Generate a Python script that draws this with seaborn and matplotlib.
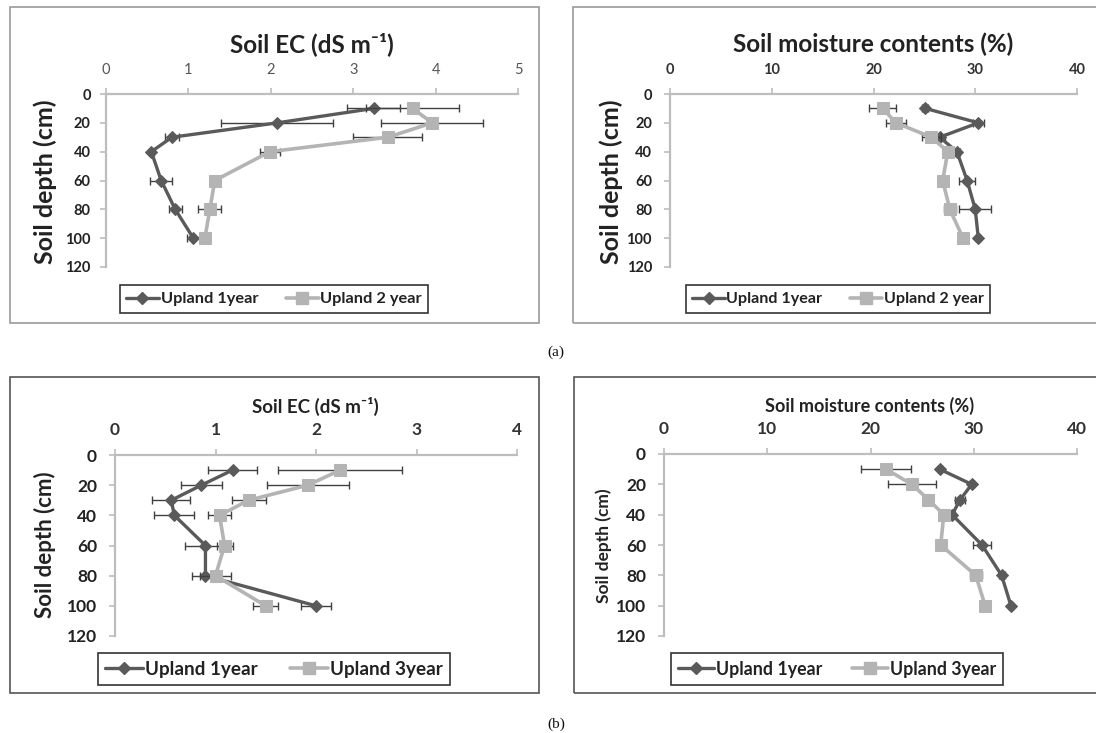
import numpy as np
import matplotlib
matplotlib.use("Agg")
import matplotlib.pyplot as plt
import seaborn as sns
from matplotlib.patches import Rectangle
from matplotlib.lines import Line2D

# ---------------- data ----------------
depth = [10, 20, 30, 40, 60, 80, 100]
depth_ticks = [0, 20, 40, 60, 80, 100, 120]

# (a) Soil EC
a_ec_1yr = [3.25, 2.08, 0.80, 0.55, 0.67, 0.84, 1.06]
a_ec_1yr_err = [0.32, 0.68, 0.08, 0.03, 0.13, 0.08, 0.08]
a_ec_2yr = [3.72, 3.96, 3.42, 1.99, 1.32, 1.26, 1.20]
a_ec_2yr_err = [0.57, 0.62, 0.42, 0.12, 0.03, 0.14, 0.06]
# (a) Soil moisture
a_sm_1yr = [25.1, 30.3, 26.5, 28.2, 29.2, 30.0, 30.3]
a_sm_1yr_err = [0.3, 0.55, 0.5, 0.3, 0.75, 1.55, 0.2]
a_sm_2yr = [20.9, 22.2, 25.7, 27.3, 26.8, 27.5, 28.8]
a_sm_2yr_err = [1.3, 1.0, 0.9, 0.3, 0.2, 0.6, 0.2]
# (b) Soil EC
b_ec_1yr = [1.17, 0.86, 0.56, 0.59, 0.90, 0.90, 2.00]
b_ec_1yr_err = [0.24, 0.20, 0.19, 0.20, 0.20, 0.13, 0.145]
b_ec_3yr = [2.24, 1.92, 1.33, 1.04, 1.09, 1.00, 1.50]
b_ec_3yr_err = [0.62, 0.41, 0.17, 0.11, 0.08, 0.15, 0.125]
# (b) Soil moisture
b_sm_1yr = [26.7, 29.8, 28.7, 27.9, 30.8, 32.7, 33.6]
b_sm_1yr_err = [0.2, 0.2, 0.5, 0.3, 0.85, 0.3, 0.2]
b_sm_3yr = [21.5, 24.0, 25.6, 27.1, 26.8, 30.2, 31.1]
b_sm_3yr_err = [2.4, 2.3, 0.2, 0.4, 0.2, 0.6, 0.3]

label_1yr = "Upland 1year"
label_2yr = "Upland 2 year"
label_3yr = "Upland 3year"
title_ec = "Soil EC (dS m\u207b\u00b9)"
title_sm = "Soil moisture contents (%)"
ylabel = "Soil depth (cm)"

# ---------------- style ----------------
sns.set_theme(style="white")
plt.rcParams["font.family"] = ["Lato", "DejaVu Sans"]

W, H = 1096, 733
fig = plt.figure(figsize=(W / 100, H / 100), dpi=100)

C1 = "#5a5a5a"
C2 = "#b4b4b4"
CERR = "#404040"
CAX = "#bdbdbd"


def fx(px):
    return px / W


def fy(py):
    return 1 - py / H


def make_axes(x0, x1, y0, y1):
    return fig.add_axes([fx(x0), fy(y1), fx(x1 - x0), (y1 - y0) / H])


def frame(x0, y0, x1, y1, color):
    fig.patches.append(Rectangle((fx(x0), fy(y1)), fx(x1 - x0), (y1 - y0) / H,
                                 transform=fig.transFigure, fill=False,
                                 edgecolor=color, lw=1.2, zorder=0))


def panel(ax, xmax, xticks, s1, e1, s2, e2, lab2, xt_size, xt_weight, xt_color,
          yt_size, title, t_size, t_xy, yl_size, yl_xy, leg_xy, leg_size, xt_pad, yt_pad):
    df_kw = dict(ax=ax, orient="y", sort=False, legend=False)
    ax.errorbar(s1, depth, xerr=e1, fmt="none", ecolor=CERR, elinewidth=1.0,
                capsize=3, capthick=1.0, zorder=3)
    sns.lineplot(x=s1, y=depth, color=C1, lw=2.4, marker="D", markersize=6,
                 markeredgecolor=C1, zorder=4, **df_kw)
    ax.errorbar(s2, depth, xerr=e2, fmt="none", ecolor=CERR, elinewidth=1.0,
                capsize=3, capthick=1.0, zorder=5)
    sns.lineplot(x=s2, y=depth, color=C2, lw=2.6, marker="s", markersize=9,
                 markeredgecolor=C2, zorder=6, **df_kw)
    ax.set_xlim(0, xmax)
    ax.set_ylim(120, 0)
    ax.set_xticks(xticks)
    ax.set_yticks(depth_ticks)
    ax.xaxis.tick_top()
    ax.set_xlabel("")
    ax.set_ylabel("")
    for s in ["right", "bottom"]:
        ax.spines[s].set_visible(False)
    for s in ["top", "left"]:
        ax.spines[s].set_color(CAX)
        ax.spines[s].set_linewidth(1.6)
    ax.set_facecolor("none")
    ax.tick_params(axis="x", which="both", top=True, bottom=False, direction="out",
                   length=4, width=1.2, color=CAX, labelsize=xt_size, pad=xt_pad,
                   labelcolor=xt_color)
    ax.tick_params(axis="y", which="both", left=True, direction="out", length=4,
                   width=1.2, color=CAX, labelsize=yt_size, pad=yt_pad,
                   labelcolor="#222222")
    for t in ax.get_xticklabels():
        t.set_fontweight(xt_weight)
    for t in ax.get_yticklabels():
        t.set_fontweight("bold")
    for art in ax.lines + ax.collections:
        art.set_clip_on(False)
    fig.text(fx(t_xy[0]), fy(t_xy[1]), title, ha="center", va="center",
             fontsize=t_size, fontweight="bold", color="#222222")
    fig.text(fx(yl_xy[0]), fy(yl_xy[1]), ylabel, ha="center", va="center",
             rotation=90, fontsize=yl_size, fontweight="bold", color="#222222")
    handles = [Line2D([], [], color=C1, lw=2.4, marker="D", markersize=6),
               Line2D([], [], color=C2, lw=2.6, marker="s", markersize=9)]
    leg = ax.legend(handles, [label_1yr, lab2], loc="center",
                    bbox_to_anchor=(fx(leg_xy[0]), fy(leg_xy[1])),
                    bbox_transform=fig.transFigure, ncol=2, frameon=True,
                    fancybox=False, edgecolor="#333333", framealpha=1,
                    prop={"weight": "bold", "size": leg_size},
                    handlelength=2.0, handletextpad=0.1, columnspacing=1.7,
                    borderpad=0.4, borderaxespad=0)
    leg.get_frame().set_linewidth(1.2)
    for t in leg.get_texts():
        t.set_color("#222222")


# frames
frame(10, 7, 539, 323, "#9a9a9a")
frame(573, 7, 1104, 323, "#9a9a9a")
frame(10, 377, 539, 693, "#555555")
frame(574, 377, 1104, 693, "#555555")

ax1 = make_axes(106, 518, 94, 267)
panel(ax1, 5, [0, 1, 2, 3, 4, 5], a_ec_1yr, a_ec_1yr_err, a_ec_2yr, a_ec_2yr_err,
      label_2yr, 10.5, "normal", "#555555", 10.5, title_ec, 17.5, (312, 44), 18,
      (45, 182), (274, 299), 11.8, 8, 7)

ax2 = make_axes(670, 1077, 94, 267)
panel(ax2, 40, [0, 10, 20, 30, 40], a_sm_1yr, a_sm_1yr_err, a_sm_2yr, a_sm_2yr_err,
      label_2yr, 10.5, "bold", "#333333", 10.5, title_sm, 17.5, (873, 44), 18,
      (611, 182), (838, 299), 11.6, 8, 9)

ax3 = make_axes(115, 517, 455, 636)
panel(ax3, 4, [0, 1, 2, 3, 4], b_ec_1yr, b_ec_1yr_err, b_ec_3yr, b_ec_3yr_err,
      label_3yr, 12.5, "bold", "#333333", 12.5, title_ec, 13.5, (315, 406), 16,
      (45, 545), (274, 669), 13.6, 8, 9)

ax4 = make_axes(664, 1077, 454, 636)
panel(ax4, 40, [0, 10, 20, 30, 40], b_sm_1yr, b_sm_1yr_err, b_sm_3yr, b_sm_3yr_err,
      label_3yr, 12.5, "bold", "#333333", 12.5, title_sm, 13, (870, 406), 12.5,
      (604, 546), (837, 669), 12.8, 8, 9)

fig.text(fx(556), fy(352), "(a)", ha="center", va="center", fontsize=11,
         family="Liberation Serif", color="#111111")
fig.text(fx(556), fy(724), "(b)", ha="center", va="center", fontsize=11,
         family="Liberation Serif", color="#111111")

fig.savefig("out.png", dpi=100, facecolor="white")
